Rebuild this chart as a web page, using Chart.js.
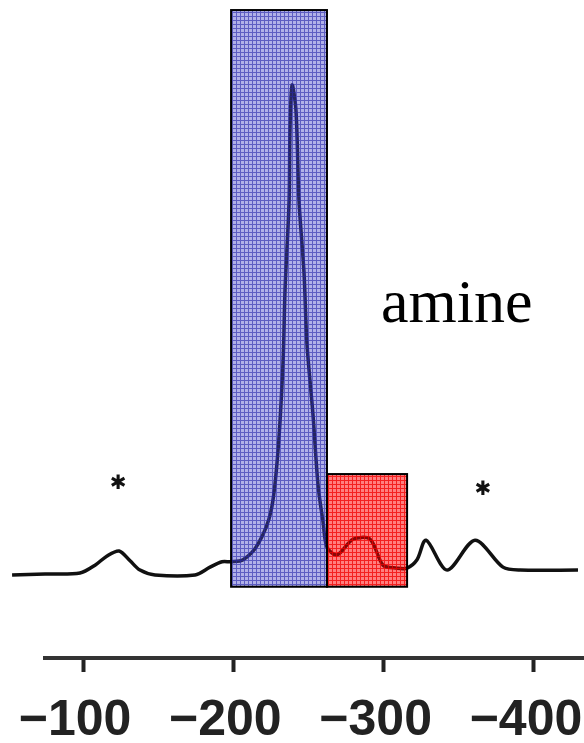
<!DOCTYPE html>
<html>
<head>
<meta charset="utf-8">
<script src="https://cdn.jsdelivr.net/npm/chart.js@4.4.1/dist/chart.umd.min.js"></script>
<style>
html, body { margin: 0; padding: 0; background: #fff; }
#wrap { width: 584px; height: 743px; }
</style>
</head>
<body>
<div id="wrap"><canvas id="nmrChart"></canvas></div>
<script>
// spectrum: chemical shift (ppm) and relative intensity
const shifts = [-52.8, -74.7, -98.0, -108.0, -116.0, -124.0, -131.3, -137.9, -147.9, -174.5,
    -184.5, -192.5, -198.5, -206.5, -216.4, -225.1, -229.7, -233.1, -234.4, -237.1,
    -237.7, -239.1, -241.7, -243.7, -247.0, -249.0, -253.0, -256.4, -259.7, -262.3,
    -269.0, -279.6, -291.0, -299.6, -308.9, -315.6, -322.2, -328.2, -342.2, -360.8,
    -379.4, -390.8, -429.3];
const intensity = [0, 0.2, 0.4, 2.0, 3.9, 4.9, 2.9, 1.0, 0, 0,
    1.6, 2.7, 2.7, 3.1, 6.3, 13.1, 25.3, 43.7, 58.2, 76.3,
    91.0, 100, 94.7, 76.3, 61.8, 47.1, 32.7, 18.2, 10.8, 5.7,
    4.1, 7.3, 7.3, 2.0, 1.4, 1.4, 3.1, 7.1, 1.0, 7.1,
    1.6, 1.0, 1.0];
const tickValues = [-100, -200, -300, -400];

// highlighted regions (ppm from / to, height)
const regionFrom = [-198.5, -262.3];
const regionTo = [-262.3, -315.6];
const regionTop = [115.3, 20.6];
const regionBottom = -2.4;

// asterisks over the side bands
const starShifts = [-123.3, -366.1];
const starHeights = [18.6, 17.3];

const labelText = 'amine';
const labelShift = -298.3;
const labelHeight = 51.6;

function gridPattern(ctx, base, line) {
    const c = document.createElement('canvas');
    c.width = 4;
    c.height = 4;
    const g = c.getContext('2d');
    g.fillStyle = base;
    g.fillRect(0, 0, 4, 4);
    g.fillStyle = line;
    g.fillRect(0, 0, 4, 1);
    g.fillRect(0, 1, 1, 3);
    return ctx.createPattern(c, 'repeat');
}

const regionPlugin = {
    id: 'regions',
    afterDatasetsDraw(chart) {
        const { ctx, scales: { x, y } } = chart;
        const fills = [
            gridPattern(ctx, 'rgba(70,70,200,0.42)', 'rgba(40,40,170,0.62)'),
            gridPattern(ctx, 'rgba(255,0,0,0.5)', 'rgba(240,0,0,0.75)')
        ];
        ctx.save();
        regionFrom.forEach((from, i) => {
            const left = x.getPixelForValue(from);
            const right = x.getPixelForValue(regionTo[i]);
            const top = y.getPixelForValue(regionTop[i]);
            const bottom = y.getPixelForValue(regionBottom);
            ctx.fillStyle = fills[i];
            ctx.fillRect(left, top, right - left, bottom - top);
            ctx.lineWidth = 2;
            ctx.strokeStyle = '#000';
            ctx.strokeRect(left, top, right - left, bottom - top);
        });

        // asterisks
        ctx.fillStyle = '#111';
        ctx.font = '20px "DejaVu Sans"';
        ctx.textAlign = 'center';
        ctx.textBaseline = 'middle';
        starShifts.forEach((s, i) => {
            ctx.fillText('\u2731', x.getPixelForValue(s), y.getPixelForValue(starHeights[i]));
        });

        // label
        ctx.fillStyle = '#000';
        ctx.font = '62px "Liberation Serif"';
        ctx.textAlign = 'left';
        ctx.textBaseline = 'alphabetic';
        ctx.fillText(labelText, x.getPixelForValue(labelShift), y.getPixelForValue(labelHeight));
        ctx.restore();
    }
};

const ctx = document.getElementById('nmrChart').getContext('2d');
const nmrChart = new Chart(ctx, {
    type: 'line',
    data: {
        datasets: [{
            data: shifts.map((s, i) => ({ x: s, y: intensity[i] })),
            borderColor: '#111',
            borderWidth: 3.5,
            pointRadius: 0,
            tension: 0.3,
            clip: false
        }]
    },
    options: {
        responsive: true,
        maintainAspectRatio: false,
        animation: false,
        layout: { padding: { left: 45, right: 0, top: 0, bottom: 0 } },
        plugins: {
            legend: { display: false },
            tooltip: { enabled: false }
        },
        scales: {
            x: {
                type: 'linear',
                reverse: true,
                min: -433.3,
                max: -74.7,
                afterBuildTicks: (axis) => {
                    axis.ticks = tickValues.map(v => ({ value: v }));
                },
                afterFit: (axis) => {
                    axis.paddingLeft = 0;
                    axis.paddingRight = 0;
                    axis.height = 85;
                },
                ticks: {
                    autoSkip: false,
                    maxRotation: 0,
                    padding: 19,
                    labelOffset: -8,
                    color: '#222',
                    font: { family: '"Liberation Sans", Arial, sans-serif', size: 50, weight: 'bold' },
                    callback: (v) => '\u2212' + Math.abs(v)
                },
                grid: {
                    drawOnChartArea: false,
                    tickLength: 14,
                    tickWidth: 4,
                    tickColor: '#222'
                },
                border: { display: true, width: 4, color: '#333' }
            },
            y: {
                display: false,
                min: -16.94,
                max: 117.35
            }
        }
    },
    plugins: [regionPlugin]
});
</script>
</body>
</html>
